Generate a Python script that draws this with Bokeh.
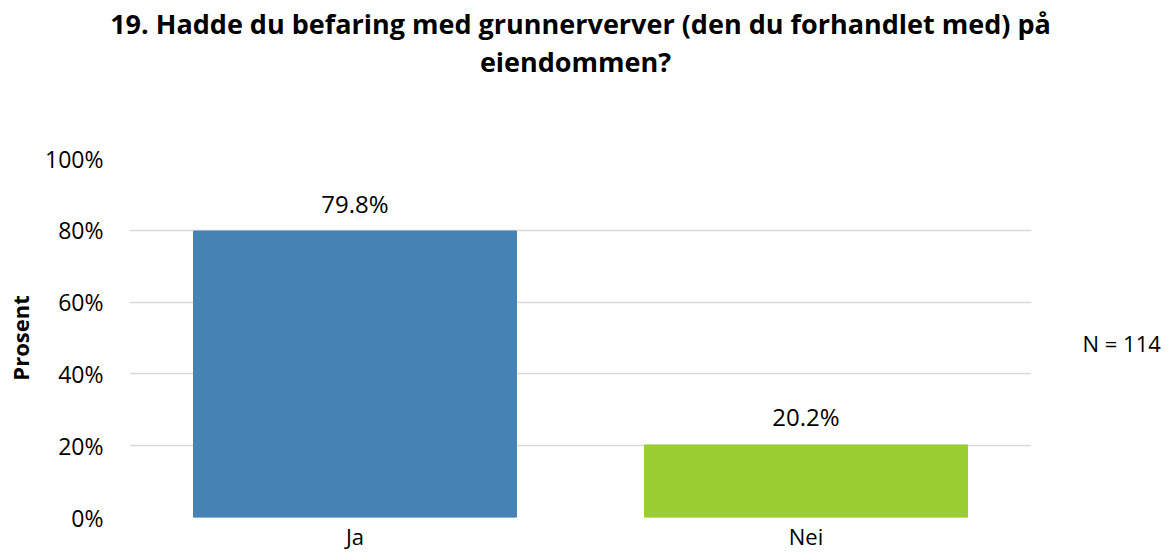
from bokeh.plotting import figure
from bokeh.models import Range1d, FixedTicker, ColumnDataSource, LinearAxis
from bokeh.core.properties import value
from bokeh.embed import file_html
from bokeh.resources import INLINE

categories = ["Ja", "Nei"]
values = [79.8, 20.2]
value_labels = ["79.8%", "20.2%"]
colors = ["#4682B4", "#9ACD32"]
y_ticks = [0, 20, 40, 60, 80, 100]
y_tick_labels = ["0%", "20%", "40%", "60%", "80%", "100%"]
title_line1 = "19. Hadde du befaring med grunnerverver (den du forhandlet med) på"
title_line2 = "eiendommen?"
n_text = "N = 114"
n_pos = 48.5

FONT = "Open Sans"

xs = [i + 0.5 for i in range(len(categories))]
src = ColumnDataSource(dict(x=xs, top=values, label=value_labels, color=colors))

p = figure(output_backend="svg", toolbar_location=None,
           frame_width=902, frame_height=359,
           min_border_left=129, min_border_right=130,
           min_border_top=158, min_border_bottom=35,
           x_range=Range1d(0, len(categories)), y_range=Range1d(0, 100),
           background_fill_color="white", border_fill_color="white",
           outline_line_color=None)

p.vbar(x="x", top="top", width=0.716, bottom=0, color="color", source=src)

p.text(x="x", y="top", text="label", source=src, text_align="center",
       text_baseline="middle", y_offset=-28, text_font_size="24px",
       text_color="#000000", text_font=value(FONT))

# grid
p.xgrid.visible = False
p.ygrid.ticker = FixedTicker(ticks=y_ticks)
p.ygrid.grid_line_color = "#d9d9d9"
p.ygrid.grid_line_width = 1.5

# y axis
p.yaxis.ticker = FixedTicker(ticks=y_ticks)
p.yaxis.major_label_overrides = {t: l for t, l in zip(y_ticks, y_tick_labels)}
p.yaxis.axis_line_color = None
p.yaxis.major_tick_line_color = None
p.yaxis.minor_tick_line_color = None
p.yaxis.major_tick_out = 0
p.yaxis.major_label_standoff = 26
p.yaxis.major_label_text_font = FONT
p.yaxis.major_label_text_font_size = "23px"
p.yaxis.major_label_text_color = "#000000"
p.yaxis.axis_label = "Prosent"
p.yaxis.axis_label_text_font = FONT
p.yaxis.axis_label_text_font_size = "22px"
p.yaxis.axis_label_text_font_style = "bold"
p.yaxis.axis_label_text_color = "#000000"
p.yaxis.axis_label_standoff = 7

# x axis
p.xaxis.ticker = FixedTicker(ticks=xs)
p.xaxis.major_label_overrides = {x: c for x, c in zip(xs, categories)}
p.xaxis.axis_line_color = None
p.xaxis.major_tick_line_color = None
p.xaxis.minor_tick_line_color = None
p.xaxis.major_tick_out = 0
p.xaxis.major_label_standoff = 3
p.xaxis.major_label_text_font = FONT
p.xaxis.major_label_text_font_size = "22px"
p.xaxis.major_label_text_color = "#000000"

# Title drawn as an axis above the plot: axis label = line 1, tick label = line 2
title_x = 0.989
title_axis = LinearAxis(ticker=FixedTicker(ticks=[title_x]),
                        major_label_overrides={title_x: title_line2},
                        axis_line_color=None, major_tick_line_color=None,
                        minor_tick_line_color=None, major_tick_out=0,
                        major_label_standoff=79,
                        major_label_text_font=FONT,
                        major_label_text_font_size="27px",
                        major_label_text_font_style="bold",
                        major_label_text_color="#000000",
                        axis_label=title_line1,
                        axis_label_standoff=-2,
                        axis_label_text_font=FONT,
                        axis_label_text_font_size="27px",
                        axis_label_text_font_style="bold",
                        axis_label_text_color="#000000")
p.add_layout(title_axis, "above")

# N annotation as a right-side axis label
n_axis = LinearAxis(ticker=FixedTicker(ticks=[n_pos]),
                    major_label_overrides={n_pos: n_text},
                    axis_line_color=None, major_tick_line_color=None,
                    minor_tick_line_color=None, major_tick_out=0,
                    major_label_standoff=51,
                    major_label_text_font=FONT,
                    major_label_text_font_size="22px",
                    major_label_text_color="#000000")
p.add_layout(n_axis, "right")

open("out.html", "w").write(file_html(p, INLINE))
